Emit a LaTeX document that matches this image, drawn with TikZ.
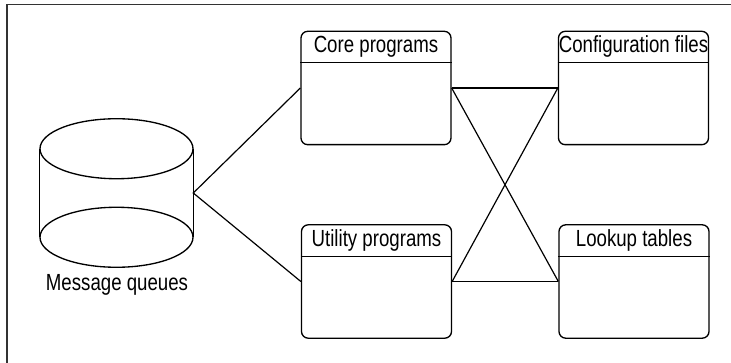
\documentclass[tikz,border=0pt]{standalone}
\usepackage{fontspec}
\setmainfont{Liberation Sans}[FakeStretch=0.8]
\begin{document}
\begin{tikzpicture}[x=0.75pt,y=-0.75pt,
  lbl/.style={font=\fontsize{17.5}{20}\selectfont, inner sep=0pt},
  tbl/.style={draw, line width=1pt, rounded corners=5pt, minimum width=112.5pt, minimum height=85pt, inner sep=0pt},
  conn/.style={line width=0.9pt},
  frame/.style={line width=1.3pt, draw=black!80}]
\useasboundingbox (0,0) rectangle (731,363);
\draw[frame] (7,363) -- (7,4.5) -- (731,4.5);
% cylinder
\node[minimum width=114.75pt, minimum height=66pt, inner sep=0pt] (mq) at (116.5,193) {};
\draw[line width=1pt] (mq.north) ellipse [x radius=76.5, y radius=30];
\draw[line width=1pt] (mq.south) ellipse [x radius=76.5, y radius=30];
\draw[line width=1pt] (mq.north west) -- (mq.south west);
\draw[line width=1pt] (mq.north east) -- (mq.south east);
\node[lbl] (mql) at (117,285) {Message queues};
% tables
\node[tbl] (core) at (376,88) {};
\node[tbl] (util) at (376.5,281.5) {};
\node[tbl] (conf) at (633.5,88) {};
\node[tbl] (look) at (634,281.5) {};
\foreach \n/\t in {core/Core programs, util/Utility programs, conf/Configuration files, look/Lookup tables}{
  \draw[line width=1pt] ([yshift=-24pt]\n.north west) -- ([yshift=-24pt]\n.north east);
  \node[lbl] at ([yshift=-12pt]\n.north) {\t};
}
% connectors
\draw[conn] (core.west) -- (mq.east) -- (util.west);
\draw[conn] (core.east) -- (conf.west);
\draw[conn] (core.east) -- (look.west);
\draw[conn] (util.east) -- (conf.west);
\draw[conn] (util.east) -- (look.west);
\end{tikzpicture}
\end{document}
